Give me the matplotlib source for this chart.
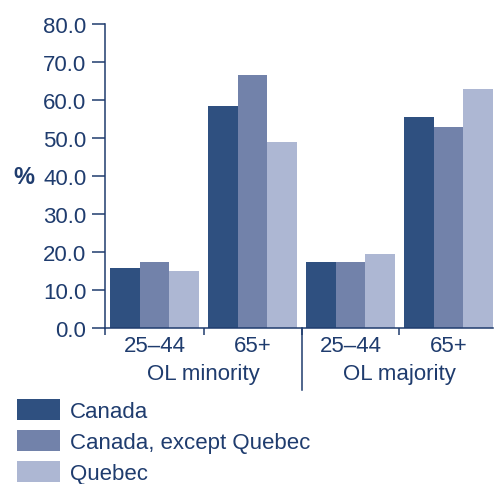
import numpy as np
import matplotlib.pyplot as plt
from matplotlib.lines import Line2D
from matplotlib.patches import Patch

plt.rcParams['font.family'] = ['Liberation Sans', 'DejaVu Sans']

# data (%)
series = ['Canada', 'Canada, except Quebec', 'Quebec']
ages = ['25\u201344', '65+', '25\u201344', '65+']
groups = ['OL minority', 'OL majority']
canada = [15.6, 58.4, 17.4, 55.4]
canada_exq = [17.4, 66.6, 17.2, 52.9]
quebec = [15.0, 49.0, 19.5, 62.8]
yticks = [0, 10, 20, 30, 40, 50, 60, 70, 80]

navy = '#1f3c6e'
colors = ['#2f5080', '#7282aa', '#adb7d3']

fig = plt.figure(figsize=(4.95, 4.85), dpi=100)
ax = fig.add_axes([105/495, 1-328.7/485, 388/495, 303.7/485])

period = 3.3
x0 = np.arange(len(ages)) * period
for i, vals in enumerate([canada, canada_exq, quebec]):
    ax.bar(x0 + i, vals, width=1.0, color=colors[i], linewidth=0)

ax.set_xlim(-0.67, 12.4)
ax.set_ylim(0, 80)
ax.set_yticks(yticks)
ax.set_yticklabels(['%.1f' % v for v in yticks])
ax.tick_params(axis='y', length=9.4, width=1.1, color=navy, labelcolor=navy,
               labelsize=16, pad=4)

# group boundary ticks on x
bounds = [-0.67] + list(x0[1:] - 0.65)
ax.set_xticks(bounds)
ax.set_xticklabels([])
ax.tick_params(axis='x', length=5, width=1.1, color=navy, direction='out')

for s in ['top', 'right']:
    ax.spines[s].set_visible(False)
for s in ['left', 'bottom']:
    ax.spines[s].set_color(navy)
    ax.spines[s].set_linewidth(1.1)

trans = ax.get_xaxis_transform()
# long separator between the two language groups
sep = x0[2] - 0.65
ax.add_line(Line2D([sep, sep], [0, -0.205], transform=trans, color=navy,
                   linewidth=1.1, clip_on=False))

for xc, lab in zip(x0 + 1, ages):
    ax.text(xc, -0.06, lab, transform=trans, ha='center', va='center',
            fontsize=16, color=navy)
for k, g in enumerate(groups):
    xc = (x0[2 * k] + x0[2 * k + 1] + 2) / 2
    ax.text(xc, -0.15, g, transform=trans, ha='center', va='center',
            fontsize=16, color=navy)

fig.text(13/495, 1-177/485, '%', ha='left', va='center', fontsize=17,
         fontweight='bold', color=navy)

handles = [Patch(facecolor=c, edgecolor='none') for c in colors]
leg = fig.legend(handles, series, loc='upper left',
                 bbox_to_anchor=(17/495, 1-400/485), frameon=False,
                 fontsize=16, handlelength=1.95, handleheight=1.1,
                 handletextpad=0.45, labelspacing=0.35, borderpad=0,
                 borderaxespad=0)
for t in leg.get_texts():
    t.set_color(navy)

fig.savefig('out.png', dpi=100)
